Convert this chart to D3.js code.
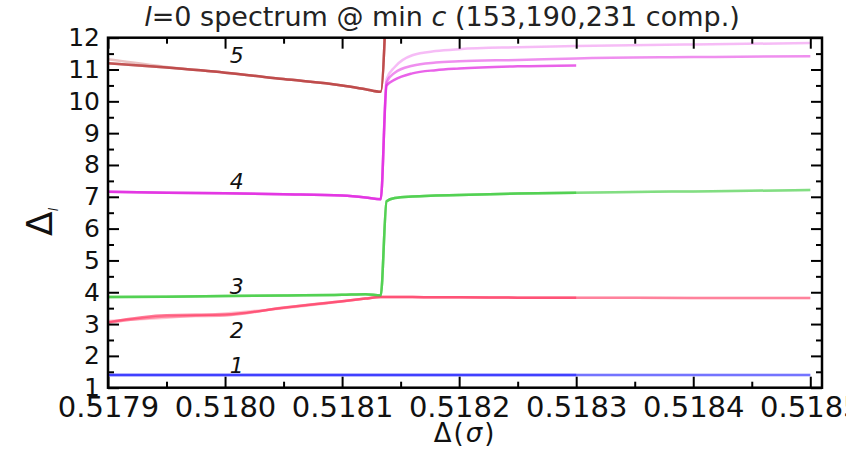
<!DOCTYPE html>
<html>
<head>
<meta charset="utf-8">
<script src="https://cdn.jsdelivr.net/npm/d3@7"></script>
<style>
  html, body { margin: 0; padding: 0; background: #fff; }
  svg { display: block; font-family: "DejaVu Sans", sans-serif; }
</style>
</head>
<body>
<svg id="chart" width="846" height="449"></svg>
<script>
// Δ(σ) sample points (the jump sits between 0.518133 and 0.518138)
const dSigma = [0.5179, 0.51795, 0.5180, 0.51805, 0.5181, 0.51812, 0.518133, 0.518138,
                0.518145, 0.51816, 0.51818, 0.5182, 0.51825, 0.5183, 0.5184, 0.5185];

// Lowest five l=0 dimensions Δ_1..Δ_5, one row per level, for each truncation
const comp153 = [
  [1.40, 1.40, 1.40, 1.40, 1.40, 1.40, 1.40, 1.40, 1.40, 1.40, 1.40, 1.40, 1.40, 1.40, null, null],
  [3.06, 3.28, 3.30, 3.51, 3.72, 3.80, 3.85, 3.85, 3.85, 3.85, 3.84, 3.84, 3.83, 3.83, null, null],
  [3.85, 3.86, 3.88, 3.90, 3.92, 3.94, 3.90, 6.86, 6.96, 7.01, 7.04, 7.06, 7.10, 7.13, null, null],
  [7.16, 7.13, 7.11, 7.08, 7.04, 6.98, 6.92, 10.50, 10.68, 10.88, 10.98, 11.03, 11.10, 11.13, null, null],
  [11.20, 11.06, 10.90, 10.70, 10.50, 10.38, 10.30, 13.5, null, null, null, null, null, null, null, null]
];
const comp190 = [
  [1.40, 1.40, 1.40, 1.40, 1.40, 1.40, 1.40, 1.40, 1.40, 1.40, 1.40, 1.40, 1.40, 1.40, 1.40, 1.40],
  [3.10, 3.20, 3.33, 3.50, 3.71, 3.80, 3.85, 3.85, 3.85, 3.85, 3.84, 3.84, 3.83, 3.83, 3.82, 3.82],
  [3.85, 3.86, 3.88, 3.90, 3.92, 3.94, 3.90, 6.86, 6.96, 7.01, 7.04, 7.06, 7.10, 7.13, 7.17, 7.21],
  [7.16, 7.13, 7.11, 7.08, 7.04, 6.98, 6.92, 10.70, 11.08, 11.45, 11.58, 11.64, 11.70, 11.74, 11.79, 11.83],
  [11.32, 11.08, 10.90, 10.70, 10.50, 10.38, 10.30, 13.5, null, null, null, null, null, null, null, null]
];
const comp231 = [
  [1.40, 1.40, 1.40, 1.40, 1.40, 1.40, 1.40, 1.40, 1.40, 1.40, 1.40, 1.40, 1.40, 1.40, 1.40, 1.40],
  [3.04, 3.24, 3.27, 3.52, 3.72, 3.80, 3.85, 3.85, 3.85, 3.85, 3.84, 3.84, 3.83, 3.83, 3.82, 3.82],
  [3.85, 3.86, 3.88, 3.90, 3.92, 3.94, 3.90, 6.86, 6.96, 7.01, 7.04, 7.06, 7.10, 7.13, 7.17, 7.21],
  [7.16, 7.13, 7.11, 7.08, 7.04, 6.98, 6.92, 10.60, 10.90, 11.12, 11.22, 11.26, 11.30, 11.35, 11.39, 11.42],
  [11.20, 11.06, 10.90, 10.70, 10.50, 10.38, 10.30, 13.5, null, null, null, null, null, null, null, null]
];
const comps = [comp153, comp190, comp231];
const compOpacity = [0.7, 0.3, 0.5];

// one colour per level
const levelColors = ["#2a2aff", "#ff4068", "#40cc40", "#e020e0", "#b83838"];
const levelNames = ["1", "2", "3", "4", "5"];
// label anchor (Δσ, Δ) for each level number
const labelX = [0.51801, 0.51801, 0.51801, 0.51801, 0.51801];
const labelY = [1.46, 2.56, 3.94, 7.25, 11.2];

const xMajor = [0.5179, 0.5180, 0.5181, 0.5182, 0.5183, 0.5184, 0.5185];
const xMinor = [0.51795, 0.51805, 0.51815, 0.51825, 0.51835, 0.51845];
const yMajor = [1, 2, 3, 4, 5, 6, 7, 8, 9, 10, 11, 12];
const yMinor = [1.5, 2.5, 3.5, 4.5, 5.5, 6.5, 7.5, 8.5, 9.5, 10.5, 11.5];

const plotLeft = 108, plotRight = 822, plotTop = 37.7, plotBottom = 387.7;

const svg = d3.select("#chart");
svg.append("rect").attr("width", 846).attr("height", 449).attr("fill", "#fff");

const x = d3.scaleLinear().domain([0.5179, 0.51851]).range([plotLeft, plotRight]);
const y = d3.scaleLinear().domain([1, 12]).range([plotBottom, plotTop]);

svg.append("defs").append("clipPath").attr("id", "plotClip")
  .append("rect").attr("x", plotLeft).attr("y", plotTop)
  .attr("width", plotRight - plotLeft).attr("height", plotBottom - plotTop);

// curves
const line = d3.line()
  .defined(d => d[1] != null)
  .curve(d3.curveMonotoneX)
  .x(d => x(d[0]))
  .y(d => y(d[1]));

const curves = svg.append("g").attr("clip-path", "url(#plotClip)");
comps.forEach((comp, ci) => {
  comp.forEach((vals, li) => {
    curves.append("path")
      .datum(dSigma.map((s, i) => [s, vals[i]]))
      .attr("d", line)
      .attr("fill", "none")
      .attr("stroke", levelColors[li])
      .attr("stroke-opacity", compOpacity[ci])
      .attr("stroke-width", 2.5)
      .attr("stroke-linejoin", "round");
  });
});

// level numbers
svg.append("g").selectAll("text")
  .data(levelNames)
  .join("text")
  .attr("x", (d, i) => x(labelX[i]))
  .attr("y", (d, i) => y(labelY[i]))
  .attr("text-anchor", "middle")
  .attr("font-size", 22)
  .attr("font-style", "italic")
  .attr("fill", "#111")
  .text(d => d);

// axes: ticks pointing into the frame on all four sides
function styleAxis(g) {
  g.select(".domain").remove();
  g.selectAll(".tick line").attr("stroke", "#000").attr("stroke-width", 2);
  g.selectAll("text").attr("fill", "#111").attr("font-family", "DejaVu Sans, sans-serif");
}
const fmt = d3.format(".4f");

svg.append("g").attr("transform", `translate(0,${plotBottom})`)
  .call(d3.axisBottom(x).tickValues(xMajor).tickFormat(fmt).tickSize(-11).tickPadding(9))
  .call(styleAxis)
  .call(g => g.selectAll("text").attr("font-size", 29));
svg.append("g").attr("transform", `translate(0,${plotBottom})`)
  .call(d3.axisBottom(x).tickValues(xMinor).tickFormat("").tickSize(-6))
  .call(styleAxis);
svg.append("g").attr("transform", `translate(0,${plotTop})`)
  .call(d3.axisTop(x).tickValues(xMajor).tickFormat("").tickSize(-11))
  .call(styleAxis);
svg.append("g").attr("transform", `translate(0,${plotTop})`)
  .call(d3.axisTop(x).tickValues(xMinor).tickFormat("").tickSize(-6))
  .call(styleAxis);

svg.append("g").attr("transform", `translate(${plotLeft},0)`)
  .call(d3.axisLeft(y).tickValues(yMajor).tickFormat(d3.format("d")).tickSize(-11).tickPadding(8))
  .call(styleAxis)
  .call(g => g.selectAll("text").attr("font-size", 25));
svg.append("g").attr("transform", `translate(${plotLeft},0)`)
  .call(d3.axisLeft(y).tickValues(yMinor).tickFormat("").tickSize(-6))
  .call(styleAxis);
svg.append("g").attr("transform", `translate(${plotRight},0)`)
  .call(d3.axisRight(y).tickValues(yMajor).tickFormat("").tickSize(-11))
  .call(styleAxis);
svg.append("g").attr("transform", `translate(${plotRight},0)`)
  .call(d3.axisRight(y).tickValues(yMinor).tickFormat("").tickSize(-6))
  .call(styleAxis);

// frame
svg.append("rect")
  .attr("x", plotLeft).attr("y", plotTop)
  .attr("width", plotRight - plotLeft).attr("height", plotBottom - plotTop)
  .attr("fill", "none").attr("stroke", "#000").attr("stroke-width", 2.5);

// title
const title = svg.append("text")
  .attr("x", 442).attr("y", 26)
  .attr("text-anchor", "middle")
  .attr("font-size", 27)
  .attr("fill", "#222");
title.append("tspan").attr("font-style", "italic").text("l");
title.append("tspan").text("=0 spectrum @ min ");
title.append("tspan").attr("font-style", "italic").text("c");
title.append("tspan").text(" (153,190,231 comp.)");

// x-axis label
const xl = svg.append("text")
  .attr("x", (plotLeft + plotRight) / 2).attr("y", 442)
  .attr("text-anchor", "middle")
  .attr("font-size", 26)
  .attr("letter-spacing", 2)
  .attr("fill", "#111");
xl.append("tspan").text("Δ(");
xl.append("tspan").attr("font-style", "italic").text("σ");
xl.append("tspan").text(")");

// y-axis label
const yl = svg.append("text")
  .attr("transform", "translate(52,222) rotate(-90)")
  .attr("text-anchor", "middle")
  .attr("font-size", 36)
  .attr("fill", "#111");
yl.append("tspan").text("Δ");
yl.append("tspan").attr("font-size", 12).attr("font-style", "italic").attr("dy", 6).text("l");
</script>
</body>
</html>
